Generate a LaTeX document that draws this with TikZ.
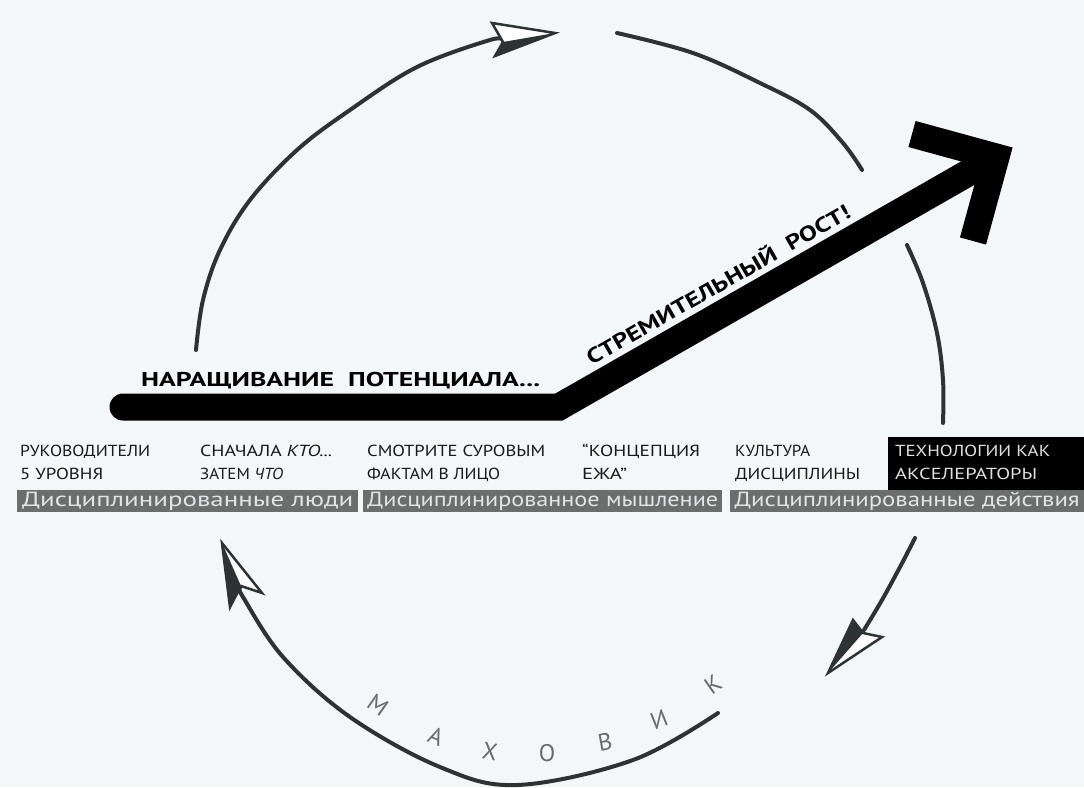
\documentclass[tikz,border=0pt]{standalone}
\usepackage{fontspec}
\usepackage{graphicx}
\setmainfont{PT Sans}
\newcommand{\fitw}[2]{\resizebox{#1}{\height}{#2}}
\definecolor{paper}{RGB}{244,247,248}
\definecolor{ink}{RGB}{45,50,50}
\definecolor{bargray}{RGB}{108,110,110}
\definecolor{bartext}{RGB}{226,229,229}
\tikzset{
  wheelarc/.style={draw=ink, line width=4pt, line cap=round, line join=round},
  lbl/.style={anchor=base west, inner sep=0pt, font=\fontsize{16}{18}\selectfont, text=black!90},
  techlbl/.style={anchor=base west, inner sep=0pt, font=\fontsize{16}{18}\selectfont, text=white!88!black},
  barlbl/.style={fill=bargray, text=bartext, inner sep=0pt, anchor=north west, minimum height=22pt, font=\fontsize{20.5}{22}\selectfont},
  headbox/.style={fill=white, draw=ink, line width=2.5pt, line join=miter},
  headdark/.style={fill=ink},
  growbar/.style={draw=black, line width=27pt},
  wheel/.style={text=black!58, font=\fontsize{24}{26}\selectfont, inner sep=0pt}
}
\begin{document}
\begin{tikzpicture}[x=1pt,y=-1pt]
\fill[paper] (0,0) rectangle (1084,787);
\useasboundingbox (0,0) rectangle (1084,787);

% ---- flywheel arcs ----
\draw[wheelarc] plot[smooth, tension=0.6] coordinates {(196,350) (203,300) (220,250) (250,200) (297,150) (350,110) (417,67) (490,40) (503,41)};
\draw[wheelarc] plot[smooth, tension=0.6] coordinates {(617,33) (693,53) (760,83) (810,110) (843,143) (862,170)};
\draw[wheelarc] plot[smooth, tension=0.6] coordinates {(907,245) (923,283) (937,333) (943,380) (943,423)};
\draw[wheelarc] plot[smooth, tension=0.6] coordinates {(915,538) (900,567) (882,600) (864,630)};
\draw[wheelarc] plot[smooth, tension=0.6] coordinates {(718,713) (633,760) (517,785) (440,767) (350,717) (283,657) (243,597) (240,588)};

% ---- arrowheads of the flywheel ----
\coordinate (hAt) at (555,33);
\coordinate (hAb) at (492,23);
\coordinate (hAn) at (503,42);
\coordinate (hAc) at (495,56);
\draw[headbox] (hAt) -- (hAb) -- (hAn) -- (hAc) -- cycle;
\fill[headdark] (hAt) -- (hAn) -- (hAc) -- cycle;

\coordinate (hBt) at (222,543);
\coordinate (hBl) at (230,607);
\coordinate (hBn) at (241,586);
\coordinate (hBr) at (262,593);
\draw[headbox] (hBt) -- (hBl) -- (hBn) -- (hBr) -- cycle;
\fill[headdark] (hBt) -- (hBl) -- (hBn) -- cycle;

\coordinate (hCt) at (828,673);
\coordinate (hCl) at (853,620);
\coordinate (hCn) at (863,633);
\coordinate (hCr) at (882,637);
\draw[headbox] (hCt) -- (hCl) -- (hCn) -- (hCr) -- cycle;
\fill[headdark] (hCt) -- (hCl) -- (hCn) -- cycle;

% ---- growth arrow ----
\coordinate (gstart) at (123,407);
\coordinate (gbend) at (559,407);
\coordinate (gtip) at (996,157);
\coordinate (gb1) at (912,134);
\coordinate (gb2) at (973,241);
\draw[growbar, line cap=round, line join=miter] (gstart) -- (gbend) -- (gtip);
\draw[growbar, line cap=butt, line join=miter] (gb1) -- (gtip) -- (gb2);

\node[anchor=base west, inner sep=0pt, font=\fontsize{20}{22}\selectfont\bfseries] (build) at (141,386) {\fitw{399pt}{НАРАЩИВАНИЕ\ \ ПОТЕНЦИАЛА...}};
\path (gbend) -- (gtip) node[pos=0.395, sloped, above=19pt, inner sep=0pt, font=\fontsize{21}{24}\selectfont\bfseries] (growth) {\fitw{300pt}{СТРЕМИТЕЛЬНЫЙ\ \ РОСТ!}};

% ---- labels ----
\node[lbl] (l1a) at (20,456) {\fitw{130pt}{РУКОВОДИТЕЛИ}};
\node[lbl] (l1b) at (20,479) {\fitw{83pt}{5 УРОВНЯ}};
\node[lbl] (l2a) at (200,456) {\fitw{132pt}{СНАЧАЛА \textit{КТО...}}};
\node[lbl] (l2b) at (200,479) {\fitw{83pt}{ЗАТЕМ \textit{ЧТО}}};
\node[lbl] (l3a) at (367,456) {\fitw{178pt}{СМОТРИТЕ СУРОВЫМ}};
\node[lbl] (l3b) at (367,479) {\fitw{133pt}{ФАКТАМ В ЛИЦО}};
\node[lbl] (l4a) at (582,456) {\fitw{118pt}{“КОНЦЕПЦИЯ}};
\node[lbl] (l4b) at (582,479) {\fitw{45pt}{ЕЖА”}};
\node[lbl] (l5a) at (735,456) {\fitw{75pt}{КУЛЬТУРА}};
\node[lbl] (l5b) at (735,479) {\fitw{125pt}{ДИСЦИПЛИНЫ}};
\node[fill=black, anchor=north west, minimum width=196pt, minimum height=53pt, inner sep=0pt] (tech) at (888,437) {};
\node[techlbl] (l6a) at (895,456) {\fitw{155pt}{ТЕХНОЛОГИИ КАК}};
\node[techlbl] (l6b) at (895,479) {\fitw{142pt}{АКСЕЛЕРАТОРЫ}};

\node[barlbl, minimum width=341pt] (people) at (17,490) {\fitw{331pt}{Дисциплинированные люди}};
\node[barlbl, minimum width=359pt] (thought) at (363,490) {\fitw{351pt}{Дисциплинированное мышление}};
\node[barlbl, minimum width=354pt] (action) at (730,490) {\fitw{345pt}{Дисциплинированные действия}};

% ---- МАХОВИК ----
\node[wheel, rotate=-35] (m1) at (378,705) {М};
\node[wheel, rotate=-22] (m2) at (436,736) {А};
\node[wheel, rotate=-10] (m3) at (490,752) {Х};
\node[wheel] (m4) at (547,753) {О};
\node[wheel, rotate=10] (m5) at (605,742) {В};
\node[wheel, rotate=22] (m6) at (659,720) {И};
\node[wheel, rotate=35] (m7) at (713,684) {К};
\end{tikzpicture}
\end{document}
